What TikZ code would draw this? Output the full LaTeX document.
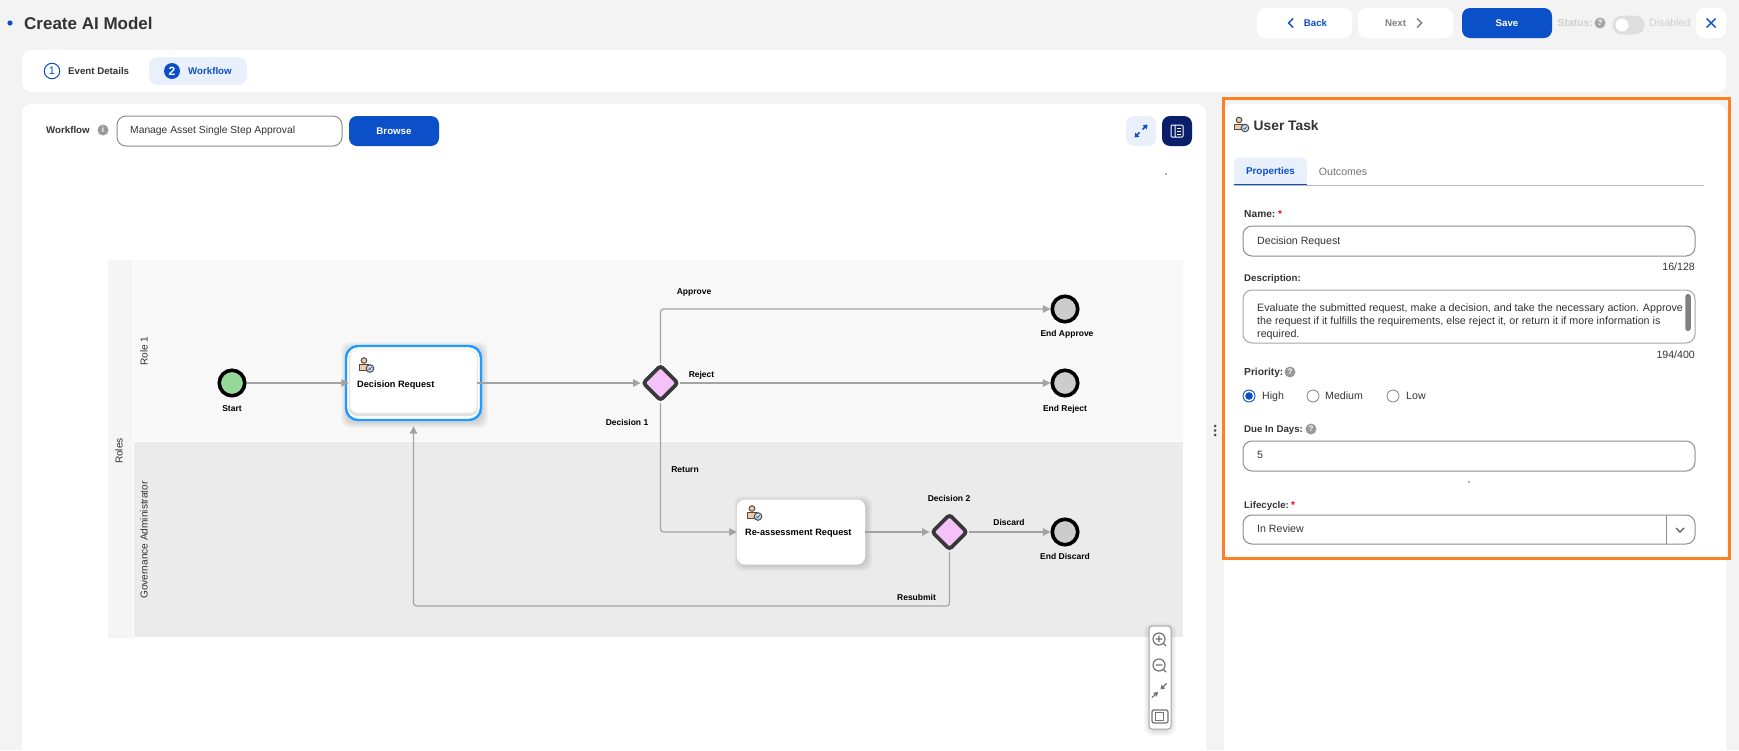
\documentclass[tikz,border=0pt]{standalone}
\usepackage{fontspec}
\setmainfont{Liberation Sans}
\usetikzlibrary{arrows.meta,shapes.geometric}

\definecolor{pagebg}{HTML}{F3F3F3}
\definecolor{brandblue}{HTML}{0B50C9}
\definecolor{navy}{HTML}{0A1F6B}
\definecolor{tabblue}{HTML}{E9F0FC}
\definecolor{inktext}{HTML}{333333}
\definecolor{fieldline}{HTML}{8C8C8C}
\definecolor{mutedtext}{HTML}{CFCFCF}
\definecolor{outline}{HTML}{FF7F27}
\definecolor{flowgray}{HTML}{A3A3A3}
\definecolor{laneone}{HTML}{F8F8F8}
\definecolor{lanetwo}{HTML}{EBEBEB}
\definecolor{stripbg}{HTML}{F5F5F5}
\definecolor{selblue}{HTML}{1E9BFF}
\definecolor{diamondpink}{HTML}{F4C2F9}
\definecolor{startgreen}{HTML}{96D99A}
\definecolor{endgray}{HTML}{CCCCCC}
\definecolor{peach}{HTML}{F6C9A5}
\definecolor{badgeblue}{HTML}{C7DAF5}

\newcommand{\softshadow}[4]{
    \foreach \g in {0,1,2,3,4,5}
        \fill[black, opacity=.022, rounded corners=8pt] ({#1-\g},{#2-\g}) rectangle ({#3+\g},{#4+\g});
}

\begin{document}
\begin{tikzpicture}[x=1pt,y=-1pt,
        card/.style={rectangle, fill=white, rounded corners=9pt, inner sep=0},
        btn/.style={rectangle, rounded corners=8pt, fill=white, inner sep=0, minimum height=30pt, font=\fontsize{9.7}{12}\selectfont\bfseries},
        txt/.style={inner sep=0, yshift=-1pt, text=inktext, font=\fontsize{10.6}{12}\selectfont},
        lbl/.style={txt, text=inktext, anchor=mid west, font=\fontsize{9.7}{12}\selectfont\bfseries},
        fieldtxt/.style={txt, anchor=mid west},
        field/.style={rectangle, draw=fieldline, fill=white, rounded corners=9pt, line width=1pt, inner sep=0},
        help/.style={circle, fill=gray!80, text=white, inner sep=0, minimum size=11pt, font=\fontsize{8}{8}\selectfont\bfseries},
        radio/.style={circle, draw=fieldline, fill=white, line width=.9pt, inner sep=0, minimum size=12pt},
        star/.style={txt, text=red, anchor=mid west, font=\fontsize{10}{10}\selectfont\bfseries},
        lane/.style={rectangle, inner sep=0},
        lanetxt/.style={inner sep=0, rotate=90, anchor=mid, text=inktext, font=\fontsize{10.1}{12}\selectfont},
        flowlbl/.style={inner sep=0, anchor=mid, yshift=-1pt, text=black, font=\fontsize{8.5}{11}\selectfont\bfseries},
        tasklbl/.style={flowlbl, anchor=mid west, font=\fontsize{9.2}{11}\selectfont\bfseries},
        startev/.style={circle, draw=black, fill=startgreen, line width=3.6pt, inner sep=0, minimum size=25.5pt},
        endev/.style={circle, draw=black, fill=endgray, line width=3.6pt, inner sep=0, minimum size=25.5pt},
        gate/.style={diamond, aspect=1, draw=black!78, fill=diamondpink, line width=3.8pt, rounded corners=3pt, inner sep=0, minimum size=36pt},
        task/.style={rectangle, fill=white, rounded corners=8pt, inner sep=0},
        flow/.style={draw=flowgray, line width=1.2pt, rounded corners=3pt, -{Triangle[length=7.5pt,width=7.5pt]}},
        tool/.style={draw=gray!90!black, line width=1.2pt, line cap=round},
        usericon/.pic={
            \fill[peach, draw=black!70, line width=1pt] (-6.5,-.5) rectangle (2,5);
            \fill[peach, draw=black!70, line width=1pt] (-2,-4.5) circle[radius=2.8];
            \fill[badgeblue, draw=black!70, line width=1pt] (4,3.5) circle[radius=3.8];
            \draw[black!70, line width=.7pt] (2.4,3.6) -- (3.6,4.8) -- (5.6,2.2);
        }]

        % Page
        \fill[pagebg] (0,0) rectangle (1739,750);
        \useasboundingbox (0,0) rectangle (1739,750);
        \fill[brandblue] (10,23) circle[radius=2.6];
        \node[txt, anchor=mid west, yshift=-2.5pt, font=\fontsize{17}{20}\selectfont\bfseries] (title) at (24,23) {Create AI Model};

        % Header buttons
        \node[btn, minimum width=95pt, text=brandblue] (back) at (1304.5,23) {\hspace*{22pt}Back\hspace*{0pt}};
        \node[btn, minimum width=95pt, text=gray] (next) at (1405.5,23) {\hspace*{-20pt}Next};
        \node[btn, minimum width=90pt, fill=brandblue, text=white] (save) at (1507,23) {Save};
        \draw[brandblue, line width=1.4pt] (1293,18.5) -- (1288.5,23) -- (1293,27.5);
        \draw[gray, line width=1.4pt] (1417,18.5) -- (1421.5,23) -- (1417,27.5);
        \node[lbl, text=mutedtext, font=\fontsize{10.4}{12}\selectfont\bfseries] (status) at (1557.5,23) {Status:};
        \node[help, fill=gray!70] (statushelp) at (1600,23) {?};
        \node[rectangle, rounded corners=9.5pt, fill=black!13, inner sep=0, minimum width=32pt, minimum height=19pt] (toggle) at (1628.5,25) {};
        \node[circle, fill=white, inner sep=0, minimum size=13pt] (knob) at (1622,25) {};
        \node[txt, anchor=mid west, text=mutedtext] (disabled) at (1649,23) {Disabled};
        \node[btn, minimum width=30pt] (close) at (1711,23) {};
        \draw[brandblue, line width=1.4pt] (1706.5,18.5) -- (1715.5,27.5) (1715.5,18.5) -- (1706.5,27.5);

        % Tabs
        \node[card, minimum width=1704pt, minimum height=42pt] (tabbar) at (874,71) {};
        \node[rectangle, rounded corners=9pt, fill=tabblue, inner sep=0, minimum width=98pt, minimum height=28pt] (tabactive) at (198,71) {};
        \node[circle, draw=brandblue, line width=1pt, inner sep=0, minimum size=15.5pt, text=brandblue, font=\fontsize{11}{11}\selectfont] (stepone) at (52,71) {1};
        \node[lbl] (tabevent) at (68,71) {Event Details};
        \node[circle, fill=brandblue, inner sep=0, minimum size=16pt, text=white, font=\fontsize{12}{12}\selectfont\bfseries] (steptwo) at (172,71) {2};
        \node[lbl, text=brandblue] (tabflow) at (188,71) {Workflow};

        % Canvas card
        \fill[white, rounded corners=9pt] (22,104) rectangle (1206,770);
        \node[lbl] (wflabel) at (46,130) {Workflow};
        \node[help] (wfinfo) at (103,130) {i};
        \node[field, minimum width=225pt, minimum height=30pt] (wfinput) at (229.5,131) {};
        \node[fieldtxt, font=\fontsize{10.3}{12}\selectfont] (wftext) at (130,130) {Manage Asset Single Step Approval};
        \node[btn, minimum width=90pt, fill=brandblue, text=white] (browse) at (394,131) {Browse};
        \node[rectangle, rounded corners=8pt, fill=tabblue, inner sep=0, minimum size=30pt] (expand) at (1141,131) {};
        \node[rectangle, rounded corners=8pt, fill=navy, inner sep=0, minimum size=30pt] (sidebar) at (1177,131) {};
        \draw[brandblue, line width=1.5pt, -{Triangle[length=4pt,width=5.5pt]}] (1139.5,132.5) -- (1134.5,137.5);
        \draw[brandblue, line width=1.5pt, -{Triangle[length=4pt,width=5.5pt]}] (1142.5,129.5) -- (1147.5,124.5);
        \draw[white, line width=1pt, rounded corners=1pt] (1171,125) rectangle (1183,137) (1175,125) -- (1175,137);
        \draw[white, line width=1pt] (1177,128) -- (1181,128) (1177,131) -- (1181,131) (1177,134) -- (1181,134);
        \fill[gray!60] (1165,173) rectangle (1167,175);

        % Lanes
        \node[lane, fill=stripbg, minimum width=25pt, minimum height=378pt] (strip) at (120.5,449) {};
        \node[lane, fill=laneone, minimum width=1049pt, minimum height=181pt] (roleone) at (658,350.5) {};
        \node[lane, fill=lanetwo, minimum width=1049pt, minimum height=195pt] (roletwo) at (658,539.5) {};
        \node[lanetxt] (roles) at (120,451) {Roles};
        \node[lanetxt] (rolea) at (145,351) {Role 1};
        \node[lanetxt] (roleb) at (145,540) {Governance Administrator};

        % Events
        \node[startev] (start) at (232,383) {};
        \node[endev] (endapp) at (1065,309) {};
        \node[endev] (endrej) at (1065,383) {};
        \node[endev] (enddis) at (1065,532) {};
        \node[flowlbl] (startlbl) at (232,408) {Start};
        \node[flowlbl] (endapplbl) at (1067,333) {End Approve};
        \node[flowlbl] (endrejlbl) at (1065,408) {End Reject};
        \node[flowlbl] (enddislbl) at (1065,556) {End Discard};

        % Tasks
        \softshadow{346}{347}{483}{423}
        \softshadow{739}{501}{867}{566}
        \node[task, draw=selblue, line width=2.4pt, rounded corners=12pt, minimum width=135pt, minimum height=74pt] (dreq) at (413.5,383) {};
        \node[task, fill=black!12, minimum width=129pt, minimum height=66pt] (dreqedge) at (413.5,383) {};
        \node[task, draw=black!6, line width=.8pt, minimum width=127pt, minimum height=63pt] (dreqcard) at (413.5,381.5) {};
        \node[task, minimum width=128pt, minimum height=65pt] (reass) at (801,532) {};
        \node[tasklbl] (dreqlbl) at (357,384) {Decision Request};
        \node[tasklbl] (reasslbl) at (745,532) {Re-assessment Request};
        \pic at (366,365) {usericon};
        \pic at (754,513) {usericon};

        % Gateways
        \node[gate] (dec1) at (660.5,383) {};
        \node[gate] (dec2) at (949.5,532) {};
        \node[flowlbl] (dec1lbl) at (627,422) {Decision 1};
        \node[flowlbl] (dec2lbl) at (949,498) {Decision 2};

        % Links
        \coordinate (resub) at (dreq.south |- 0,606);
        \draw[flow] (start) -- ([xshift=4pt]dreq.west);
        \draw[flow] ([xshift=-5pt]dreq.east) -- (dec1.west);
        \draw[flow] (dec1.north) |- (endapp.west);
        \draw[flow] (dec1.east) -- (endrej.west);
        \draw[flow] (dec1.south) |- (reass.west);
        \draw[flow] (reass.east) -- (dec2.west);
        \draw[flow] (dec2.east) -- (enddis.west);
        \draw[flow] (dec2.south) |- (resub) -- ([yshift=-5pt]dreq.south);
        \node[flowlbl] (approve) at (694,291) {Approve};
        \node[flowlbl] (reject) at (701.5,374) {Reject};
        \node[flowlbl] (return) at (685,469) {Return};
        \node[flowlbl] (discard) at (1009,522) {Discard};
        \node[flowlbl] (resubmit) at (916.5,597) {Resubmit};

        % Zoom tools
        \softshadow{1149}{628}{1171}{731}
        \node[rectangle, draw=gray!70, fill=white, rounded corners=3pt, line width=1pt, inner sep=0, minimum width=22pt, minimum height=103pt] (tools) at (1160,677.5) {};
        \draw[tool] (1159,639) circle[radius=6] (1163.5,643.5) -- (1166,646) (1156,639) -- (1162,639) (1159,636) -- (1159,642);
        \draw[tool] (1159,665) circle[radius=6] (1163.5,669.5) -- (1166,672) (1156,665) -- (1162,665);
        \draw[tool, -{Triangle[length=4pt,width=5pt]}] (1152,697.5) -- (1158,692);
        \draw[tool, -{Triangle[length=4pt,width=5pt]}] (1166.5,683.5) -- (1160.5,689.5);
        \draw[tool, rounded corners=2pt] (1152,710) rectangle (1168,723);
        \draw[tool, line width=.9pt] (1155,712.5) rectangle (1163,720);

        % Panel
        \fill[white, rounded corners=9pt] (1224,104) rectangle (1726,770);
        \node[circle, fill=black!70, inner sep=0, minimum size=3pt] (gripa) at (1215,426) {};
        \node[circle, fill=black!70, inner sep=0, minimum size=3pt] (gripb) at (1215,430.5) {};
        \node[circle, fill=black!70, inner sep=0, minimum size=3pt] (gripc) at (1215,435) {};
        \pic at (1241,124.5) {usericon};
        \node[txt, anchor=mid west, yshift=-2.5pt, font=\fontsize{13.8}{16}\selectfont\bfseries] (panelhead) at (1253.5,124) {User Task};
        \node[rectangle, fill=tabblue, rounded corners=5pt, inner sep=0, minimum width=73pt, minimum height=27pt] (proptab) at (1270.5,171) {};
        \fill[white] (1234,181) rectangle (1307,187);
        \fill[tabblue] (1234,175) rectangle (1307,184);
        \draw[gray!55, line width=1pt] (1234,185.5) -- (1704,185.5);
        \draw[brandblue, line width=1.6pt] (1234,184.5) -- (1307,184.5);
        \node[txt, text=brandblue, font=\fontsize{9.9}{12}\selectfont\bfseries] (proptxt) at (1270.5,171) {Properties};
        \node[txt, text=gray!90!black] (outcometxt) at (1343,171) {Outcomes};

        % Form
        \node[lbl, font=\fontsize{10.2}{12}\selectfont\bfseries] (namelbl) at (1244,214) {Name:};
        \node[star] (namestar) at (1278,214) {*};
        \node[field, minimum width=452pt, minimum height=30pt] (namefield) at (1469,241) {};
        \node[fieldtxt] (nametxt) at (1257,241) {Decision Request};
        \node[txt, anchor=mid east] (namecount) at (1695,267) {16/128};
        \node[lbl] (desclbl) at (1244,278) {Description:};
        \node[field, draw=gray!70, minimum width=452pt, minimum height=53pt] (descfield) at (1469,316.5) {};
        \node[txt, align=left, anchor=north west, font=\fontsize{10.7}{13}\selectfont] (desctxt) at (1257,302.5) {Evaluate the submitted request, make a decision, and take the necessary action. Approve\\the request if it fulfills the requirements, else reject it, or return it if more information is\\required.};
        \node[rectangle, fill=gray, rounded corners=2.5pt, inner sep=0, minimum width=5.5pt, minimum height=37pt] (scroll) at (1688,312.5) {};
        \node[txt, anchor=mid east] (desccount) at (1695,355) {194/400};
        \node[lbl, font=\fontsize{10.2}{12}\selectfont\bfseries] (prilbl) at (1244,372) {Priority:};
        \node[help] (prihelp) at (1290,372) {?};
        \node[radio, draw=brandblue] (radhigh) at (1249,396) {};
        \fill[brandblue] (radhigh) circle[radius=3.8];
        \node[fieldtxt] (hightxt) at (1262,396) {High};
        \node[radio] (radmed) at (1313,396) {};
        \node[fieldtxt] (medtxt) at (1325,396) {Medium};
        \node[radio] (radlow) at (1393,396) {};
        \node[fieldtxt] (lowtxt) at (1406,396) {Low};
        \node[lbl] (duelbl) at (1244,429) {Due In Days:};
        \node[help] (duehelp) at (1311,429) {?};
        \node[field, minimum width=452pt, minimum height=30pt] (duefield) at (1469,456) {};
        \node[fieldtxt] (duetxt) at (1257,455) {5};
        \fill[gray!60] (1468,481) rectangle (1469.5,482.5);
        \node[lbl] (lifelbl) at (1244,505) {Lifecycle:};
        \node[star] (lifestar) at (1291,505) {*};
        \node[field, minimum width=452pt, minimum height=29pt] (lifefield) at (1469,529.5) {};
        \node[fieldtxt] (lifetxt) at (1257,529) {In Review};
        \draw[fieldline, line width=.9pt] (1666.5,515) -- (1666.5,544);
        \draw[black!65, line width=1.3pt] (1676,528) -- (1680,532) -- (1684,528);

        % Highlight
        \node[rectangle, draw=outline, line width=3pt, inner sep=0, minimum width=506.5pt, minimum height=460pt] (focus) at (1476.25,328.5) {};
    \end{tikzpicture}
\end{document}
